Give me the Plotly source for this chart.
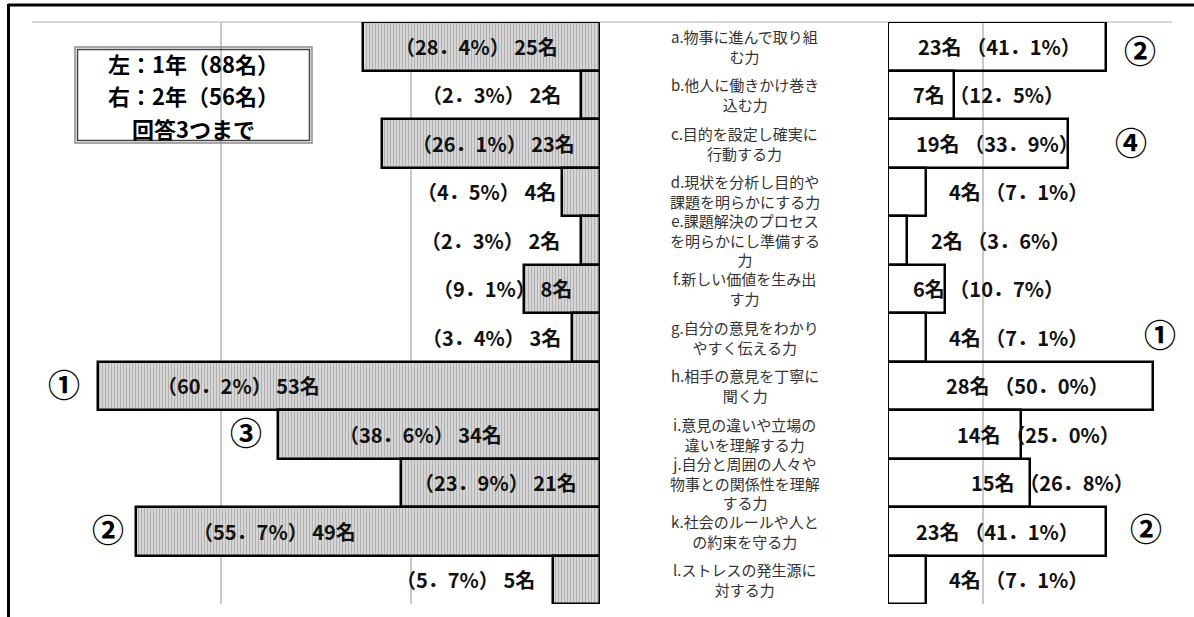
import plotly.graph_objects as go

W, H = 1194, 617

# ---------------- data ----------------
categories = [
    "a.物事に進んで取り組<br>む力",
    "b.他人に働きかけ巻き<br>込む力",
    "c.目的を設定し確実に<br>行動する力",
    "d.現状を分析し目的や<br>課題を明らかにする力",
    "e.課題解決のプロセス<br>を明らかにし準備する<br>力",
    "f.新しい価値を生み出<br>す力",
    "g.自分の意見をわかり<br>やすく伝える力",
    "h.相手の意見を丁寧に<br>聞く力",
    "i.意見の違いや立場の<br>違いを理解する力",
    "j.自分と周囲の人々や<br>物事との関係性を理解<br>する力",
    "k.社会のルールや人と<br>の約束を守る力",
    "l.ストレスの発生源に<br>対する力",
]
year1_counts = [25, 2, 23, 4, 2, 8, 3, 53, 34, 21, 49, 5]
year1_pct = [28.4, 2.3, 26.1, 4.5, 2.3, 9.1, 3.4, 60.2, 38.6, 23.9, 55.7, 5.7]
year2_counts = [23, 7, 19, 4, 2, 6, 4, 28, 14, 15, 23, 4]
year2_pct = [41.1, 12.5, 33.9, 7.1, 3.6, 10.7, 7.1, 50.0, 25.0, 26.8, 41.1, 7.1]

legend_lines = ["左：1年（88名）", "右：2年（56名）", "回答3つまで"]

left_rank_rows = [7, 8, 10]
left_rank_marks = ["①", "③", "②"]
right_rank_rows = [0, 2, 6, 10]
right_rank_marks = ["②", "④", "①", "②"]

# ---------------- label placement (axis units) ----------------
left_label_x = [13.0, 11.5, 11.3, 12.0, 11.6, 10.3, 11.5, 38.2, 19.0, 11.0, 34.4, 14.2]
right_label_x = [11.8, 10.6, 11.55, 13.8, 11.9, 10.6, 13.8, 14.7, 15.9, 17.35, 11.6, 13.8]
left_rank_x = [56.6, 37.4, 52.0]
right_rank_x = [26.6, 25.7, 28.7, 27.3]
right_rank_dy = [0.05, -0.05, -0.08, -0.08]
legend_line_y = [63, 95.5, 128]

rows = list(range(len(categories)))
FONT = "Noto Sans CJK JP"


def fmt(v):
    return f"{v:.1f}".replace(".", "．")


fig = go.Figure()
fig.add_trace(go.Bar(
    x=year1_counts, y=rows, orientation="h", xaxis="x", yaxis="y",
    width=1, cliponaxis=False, hoverinfo="skip",
    marker=dict(color="#cfcfcf", line=dict(color="black", width=2.5),
                pattern=dict(shape="|", fgcolor="#8c8c8c", bgcolor="#d6d6d6",
                             size=3, solidity=0.35)),
    showlegend=False,
))
fig.add_trace(go.Bar(
    x=year2_counts, y=rows, orientation="h", xaxis="x2", yaxis="y",
    width=1, cliponaxis=False, hoverinfo="skip",
    marker=dict(color="rgba(255,255,255,0)", line=dict(color="black", width=2.5)),
    showlegend=False,
))

ann = []
label_font = dict(family=FONT, size=20, color="#111", weight=700)
for i in rows:
    ann.append(dict(xref="x", yref="y", x=left_label_x[i], y=i,
                    text=f"（{fmt(year1_pct[i])}%） {year1_counts[i]}名",
                    showarrow=False, xanchor="center", yanchor="middle", font=label_font))
    ann.append(dict(xref="x2", yref="y", x=right_label_x[i], y=i,
                    text=f"{year2_counts[i]}名 （{fmt(year2_pct[i])}%）",
                    showarrow=False, xanchor="center", yanchor="middle", font=label_font))
    ann.append(dict(xref="paper", yref="y", x=745 / W, y=i, text=categories[i],
                    showarrow=False, xanchor="center", yanchor="middle",
                    font=dict(family=FONT, size=15, color="#333")))

rank_font = dict(family=FONT, size=32, color="black", weight=700)
for r, m, x in zip(left_rank_rows, left_rank_marks, left_rank_x):
    ann.append(dict(xref="x", yref="y", x=x, y=r - 0.06, text=m, showarrow=False,
                    font=rank_font))
for r, m, x, dy in zip(right_rank_rows, right_rank_marks, right_rank_x, right_rank_dy):
    ann.append(dict(xref="x2", yref="y", x=x, y=r + dy, text=m, showarrow=False,
                    font=rank_font, bgcolor="white", borderpad=0))

for line, ly in zip(legend_lines, legend_line_y):
    ann.append(dict(xref="paper", yref="paper", x=193.5 / W, y=1 - ly / H,
                    text=line, showarrow=False, xanchor="center", yanchor="middle",
                    font=dict(family=FONT, size=22, color="black", weight=700)))

shapes = [
    # outer frame
    dict(type="line", xref="paper", yref="paper", x0=8 / W, x1=1, y0=1 - 5 / H, y1=1 - 5 / H,
         line=dict(color="black", width=3)),
    dict(type="line", xref="paper", yref="paper", x0=8.5 / W, x1=8.5 / W, y0=0, y1=1 - 4 / H,
         line=dict(color="black", width=3)),
    # plot area top border
    dict(type="line", xref="paper", yref="paper", x0=32 / W, x1=1172 / W,
         y0=1 - 22 / H, y1=1 - 22 / H, line=dict(color="#c8c8c8", width=1.5), layer="below"),
    # legend box (double border)
    dict(type="rect", xref="paper", yref="paper", x0=75 / W, x1=312 / W,
         y0=1 - 143 / H, y1=1 - 47 / H, line=dict(color="#8a8a8a", width=1.5)),
    dict(type="rect", xref="paper", yref="paper", x0=77.5 / W, x1=309.5 / W,
         y0=1 - 140.5 / H, y1=1 - 49.5 / H, line=dict(color="#444", width=1.5)),
]

grid = dict(showgrid=True, gridcolor="#c8c8c8", gridwidth=1.5, showticklabels=False,
            ticks="", zeroline=False, showline=False, fixedrange=True)
fig.update_layout(
    width=W, height=H, margin=dict(l=0, r=0, t=0, b=0),
    paper_bgcolor="white", plot_bgcolor="rgba(0,0,0,0)",
    barmode="overlay", bargap=0,
    xaxis=dict(domain=[32 / W, 600 / W], range=[60, 0], tickvals=[20, 40, 60], **grid),
    xaxis2=dict(domain=[888 / W, 1172 / W], range=[0, 30], tickvals=[10, 30],
                anchor="y", **grid),
    yaxis=dict(domain=[1 - 604 / H, 1 - 22 / H], range=[11.5, -0.5], showgrid=False,
               showticklabels=False, zeroline=False, showline=False, ticks="", fixedrange=True),
    annotations=ann, shapes=shapes,
)

fig.write_html("out.html")
